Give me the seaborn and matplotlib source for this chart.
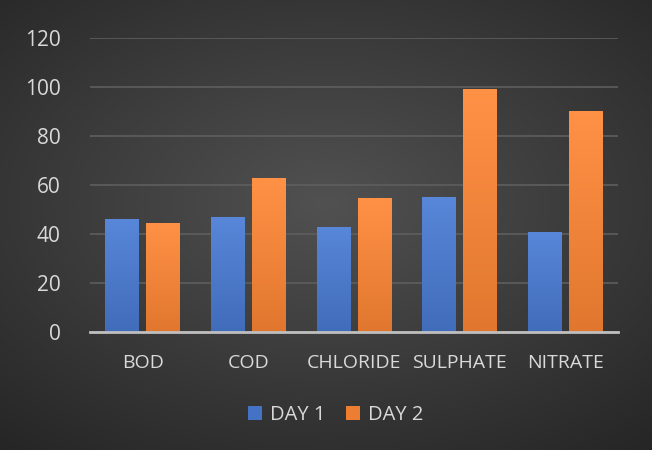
import numpy as np
import pandas as pd
import matplotlib
matplotlib.use('Agg')
import matplotlib.pyplot as plt
import seaborn as sns
from matplotlib.colors import LinearSegmentedColormap

# Values
categories = ['BOD', 'COD', 'CHLORIDE', 'SULPHATE', 'NITRATE']
day1 = [46, 47, 43, 55, 41]
day2 = [44.5, 63, 54.5, 99, 90]
series_names = ['DAY 1', 'DAY 2']
y_ticks = [0, 20, 40, 60, 80, 100, 120]

df = pd.DataFrame({
    'Parameter': categories * 2,
    'Value': day1 + day2,
    'Day': [series_names[0]] * len(categories) + [series_names[1]] * len(categories),
})

sns.set_theme(style='dark')
plt.rcParams['font.family'] = ['Open Sans', 'DejaVu Sans']
text_col = '#d9d9d9'
blue, orange = '#4472c4', '#ed7d31'

fig = plt.figure(figsize=(6.52, 4.5), dpi=100)

# radial dark-grey background, like the Excel chart style
bg = fig.add_axes([0, 0, 1, 1], zorder=-1)
yy, xx = np.mgrid[-1:1:300j, -1:1:400j]
r = np.sqrt((xx / 1.1) ** 2 + ((yy + 0.1) / 1.0) ** 2)
bg_cmap = LinearSegmentedColormap.from_list('bg', ['#515151', '#3b3b3b', '#252525'])
bg.imshow(r, cmap=bg_cmap, aspect='auto', extent=[0, 1, 0, 1], vmin=0, vmax=1.45)
bg.set_axis_off()

ax = fig.add_axes([0.138, 0.262, 0.81, 0.654])
ax.set_facecolor('none')

sns.barplot(data=df, x='Parameter', y='Value', hue='Day',
            palette=[blue, orange], width=0.78, gap=0.18,
            saturation=1, ax=ax, legend=True)

# vertical gradient inside each bar
grad = np.linspace(0, 1, 100).reshape(-1, 1)
for patch in ax.patches:
    if patch.get_height() <= 0:
        continue
    fc = patch.get_facecolor()
    base = np.array(fc[:3])
    light = np.clip(base * 1.0 + 0.08, 0, 1)
    dark = np.clip(base * 0.95, 0, 1)
    cm = LinearSegmentedColormap.from_list('b', [dark, light])
    x0, y0 = patch.get_x(), patch.get_y()
    w, h = patch.get_width(), patch.get_height()
    im = ax.imshow(grad, cmap=cm, aspect='auto', origin='lower',
                   extent=[x0, x0 + w, y0, y0 + h], zorder=patch.get_zorder())
    im.set_clip_path(patch)
    patch.set_edgecolor('none')

ax.set_xlim(-0.5, len(categories) - 0.5)
ax.set_ylim(0, 120)
ax.set_yticks(y_ticks)
ax.set_xlabel('')
ax.set_ylabel('')
ax.grid(axis='y', color='#5e5e5e', linewidth=1.2)
ax.grid(axis='x', visible=False)
ax.set_axisbelow(True)
for side in ['top', 'right', 'left']:
    ax.spines[side].set_visible(False)
ax.spines['bottom'].set_color('#bfbfbf')
ax.spines['bottom'].set_linewidth(2)
ax.tick_params(axis='both', length=0, colors=text_col)
ax.tick_params(axis='x', pad=16, labelsize=14)
ax.tick_params(axis='y', pad=21, labelsize=15)

handles, labels = ax.get_legend_handles_labels()
ax.get_legend().remove()
leg = fig.legend(handles, labels, loc='center', bbox_to_anchor=(0.515, 0.078),
                 ncol=2, frameon=False, handlelength=0.7, handleheight=0.7,
                 handletextpad=0.4, columnspacing=1.0, fontsize=14.5)
for t in leg.get_texts():
    t.set_color(text_col)
for h in leg.legend_handles:
    h.set_edgecolor('none')

fig.savefig('out.png', dpi=100)
